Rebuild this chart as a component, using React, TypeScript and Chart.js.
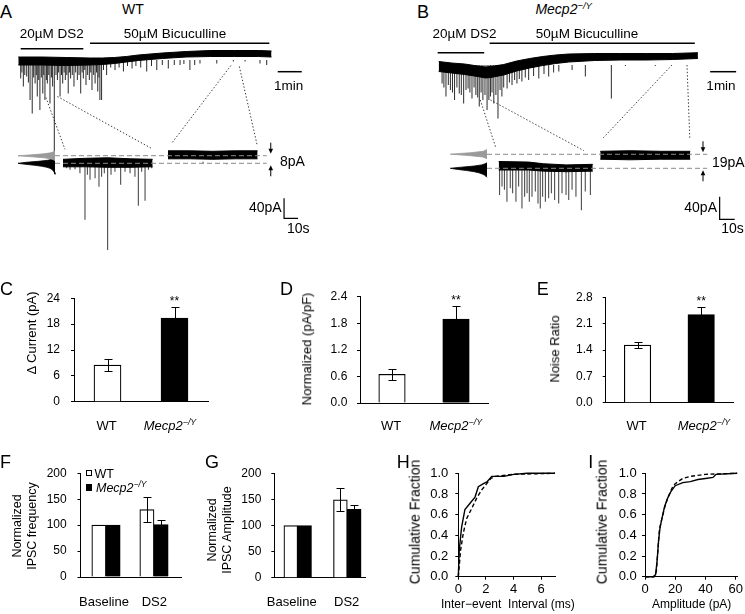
import React, { useEffect, useLayoutEffect, useRef } from 'react';
import { Chart, registerables } from 'chart.js';
Chart.register(...registerables);

const FONT = '"Liberation Sans", Arial, Helvetica, sans-serif';
Chart.defaults.font.family = FONT;
Chart.defaults.color = '#000';

// ===================== DATA =====================
// ---- Panel A (WT) : top trace, time in min, current in pA ----
const aTopT = [0, 1, 2, 3, 3.5, 4, 4.5, 5, 6, 7, 8, 9, 10, 10.55];
const aTopUpper = [6, 6, 5, 4, 4, 5, 7, 10, 14, 17, 19, 19, 19, 18];
const aTopLower = [-10, -10, -11, -10, -9, -7, -4, -1, 3, 6, 7, 7, 7, 6];
const aTopSpikes: [number, number][] = [
  [0.10, -37], [0.15, -25], [0.21, -53], [0.27, -30], [0.35, -33], [0.42, -45], [0.49, -80], [0.58, -107],
  [0.64, -35], [0.70, -47], [0.75, -30], [0.79, -73], [0.85, -40], [0.90, -100], [0.96, -35], [1.02, -67],
  [1.06, -30], [1.11, -80], [1.17, -40], [1.21, -47], [1.27, -30], [1.32, -87], [1.38, -35], [1.43, -53],
  [1.50, -190], [1.57, -30], [1.63, -40], [1.68, -25], [1.74, -73], [1.80, -30], [1.85, -47], [1.91, -25],
  [1.96, -40], [2.02, -30], [2.08, -67], [2.13, -25], [2.18, -37], [2.25, -30], [2.32, -53], [2.39, -25],
  [2.46, -40], [2.53, -30], [2.60, -67], [2.66, -25], [2.71, -37], [2.77, -20], [2.82, -50], [2.89, -30],
  [2.96, -40], [3.02, -25], [3.07, -60], [3.14, -30], [3.20, -47], [3.26, -25], [3.31, -63], [3.36, -35],
  [3.40, -80], [3.47, -80], [3.55, -20], [3.68, -30], [3.85, -15], [4.03, -20], [4.20, -15], [4.38, -23],
  [4.55, -12], [4.74, -17], [4.90, -12], [5.10, -15], [5.35, -23], [5.55, -12], [5.77, -20], [6.00, -10],
  [6.25, -17], [6.50, -10], [6.74, -10], [6.90, -8], [7.15, -20], [7.35, -10], [7.57, -7], [8.27, -7],
  [8.96, -3], [9.45, -3], [10.07, -7], [10.35, -10],
];
const aDrugT: [number, number][] = [[0.1, 2.71], [2.99, 10.46]];
// ---- Panel A inset: time in s, current in pA ----
const aInsT = [0, 16, 32, 48, 64];
const aInsUpper = [8, 10, 11, 9, 8];
const aInsLower = [-7, -7, -8, -8, -7];
const aIns2T = [75, 91, 107, 123, 139];
const aIns2Upper = [25, 25, 24, 25, 25];
const aIns2Lower = [9, 9, 8, 9, 9];
const aInsSpikes: [number, number][] = [
  [2.6, -10], [5.0, -13], [8.6, -12], [12.1, -20], [15.7, -113], [17.4, -23], [19.3, -33], [22.9, -30],
  [25.7, -47], [27.6, -27], [29.5, -20], [31.9, -185], [34.3, -23], [37.1, -17], [41.2, -43], [44.3, -17],
  [47.9, -20], [51.4, -27], [53.8, -85], [56.2, -17], [58.6, -75], [61.0, -13], [63.4, -10], [100, 3], [117, -2],
];
const aLevels = [15.2, 0];
const aGrayBins = [25, 23, 21, 19, 17, 15, 13, 11, 9, 7, 5];
const aGrayCounts = [0, 4, 12, 30, 62, 100, 62, 30, 12, 4, 0];
const aBlackBins = [12, 10, 8, 6, 4, 2, 0, -2, -4, -6, -8, -10, -12, -15, -18, -22];
const aBlackCounts = [0, 3, 8, 20, 45, 78, 100, 80, 55, 35, 22, 14, 9, 5, 2, 0];
// connectors: [top time (min), top pA, inset time (s), inset pA]
const aConn: number[][] = [[1.15, -75, 1.4, 28], [1.63, -73, 64, 28.6], [8.86, -11, 77.6, 40], [9.21, -13, 138.8, 35]];

// ---- Panel B (Mecp2-/Y) ----
const bTopT = [0, 0.5, 1, 1.5, 1.8, 2, 2.5, 3, 3.5, 4, 4.5, 5, 6, 7, 8, 9, 9.97];
const bTopUpper = [7, 4, 2, -2, -4, -3, 1, 8, 13, 17, 20, 22, 23, 23, 23, 23, 24.6];
const bTopLower = [-13, -16, -19, -23, -26, -25, -20, -12, -6, -1, 3, 6, 9, 10, 10, 11, 13];
const bTopSpikes: [number, number][] = [
  [0.13, -37], [0.20, -45], [0.28, -63], [0.37, -40], [0.45, -50], [0.53, -55], [0.61, -70], [0.70, -45],
  [0.79, -57], [0.87, -60], [0.96, -77], [1.05, -50], [1.13, -47], [1.20, -55], [1.28, -67], [1.36, -45],
  [1.43, -60], [1.50, -65], [1.56, -83], [1.63, -55], [1.70, -70], [1.78, -60], [1.86, -90], [1.93, -70],
  [1.99, -63], [2.05, -55], [2.12, -77], [2.20, -60], [2.28, -107], [2.36, -50], [2.43, -63], [2.50, -45],
  [2.63, -47], [2.72, -35], [2.82, -40], [2.92, -30], [3.01, -37], [3.10, -28], [3.20, -33], [3.33, -25],
  [3.46, -30], [3.65, -22], [3.85, -27], [4.05, -18], [4.23, -23], [4.42, -15], [4.62, -13], [5.13, -10],
  [5.64, -23], [6.64, -67], [7.18, -2], [8.33, -2], [9.36, 0],
];
const bDrugT: [number, number][] = [[-0.04, 1.75], [1.96, 9.85]];
const bInsT = [0, 20, 30, 45, 62.7];
const bInsUpper = [12, 11, 8, 6, 7];
const bInsLower = [-3, -3, -5, -6, -5];
const bIns2T = [67.7, 87.7, 107.7, 127.7];
const bIns2Upper = [30, 31, 30, 30];
const bIns2Lower = [16, 15, 16, 16];
const bInsSpikes: [number, number][] = [
  [0.6, -47], [2.2, -32], [3.8, -38], [5.5, -59], [7.7, -35], [9.3, -44], [11.5, -59], [13.3, -32],
  [15.5, -71], [17.3, -50], [18.9, -44], [20.4, -59], [22.2, -50], [24.4, -41], [26.2, -62], [27.7, -71],
  [29.3, -50], [31.1, -59], [33.3, -53], [35.1, -44], [37.3, -56], [40.0, -62], [42.2, -44], [44.9, -47],
  [46.7, -56], [48.9, -38], [51.5, -50], [55.1, -74], [57.7, -41], [61.1, -47],
];
const bLevels = [24.7, 0];
const bGrayBins = [33, 30, 27.5, 25, 22.5, 20, 17];
const bGrayCounts = [0, 10, 45, 100, 50, 12, 0];
const bBlackBins = [10, 8, 6, 4, 2, 0, -2, -4, -6, -8, -10, -12, -14, -16];
const bBlackCounts = [0, 5, 15, 35, 70, 100, 80, 55, 35, 22, 13, 7, 3, 0];
const bConn: number[][] = [[1.60, -70, -1.8, 35.4], [1.99, -70, 56.7, 31.2], [8.97, 0, 69, 51.7], [9.55, 0, 127.4, 52]];

const scaleBarPA = 40;
const scaleBarS = 10;
const scaleBarMin = 1;

// ---- Panels C, D, E ----
const groups = ['WT', 'Mecp2−/Y'];
const cValues = [8.5, 19.4];
const cErrors = [1.3, 2.6];
const dValues = [0.65, 1.9];
const dErrors = [0.13, 0.3];
const eValues = [1.53, 2.34];
const eErrors = [0.08, 0.21];
const sigMarks = ['', '**'];

// ---- Panels F, G ----
const conditions = ['Baseline', 'DS2'];
const fWT = [100, 130];
const fWTErr = [0, 24];
const fKO = [100, 101];
const fKOErr = [0, 9];
const gWT = [100, 149];
const gWTErr = [0, 22];
const gKO = [100, 131];
const gKOErr = [0, 9];

// ---- Panels H, I (cumulative fractions) ----
const hSolidX = [0, 0.07, 0.24, 0.48, 0.85, 1.21, 1.45, 1.82, 2.1, 2.42, 3.3, 4.0, 5.0, 7.0];
const hSolidY = [0, 0.26, 0.48, 0.65, 0.71, 0.77, 0.87, 0.9, 0.92, 0.97, 0.97, 0.99, 1.0, 1.0];
const hDashX = [0, 0.17, 0.36, 0.6, 0.97, 1.33, 1.7, 2.06, 2.35, 2.67, 4.0, 7.0];
const hDashY = [0, 0.26, 0.42, 0.56, 0.66, 0.76, 0.84, 0.9, 0.95, 0.97, 0.99, 1.0];
const iSolidX = [0, 5.5, 7, 8, 9, 10, 11, 13, 15, 17, 20, 25, 30, 35, 40, 45, 47, 61];
const iSolidY = [0, 0, 0.02, 0.15, 0.35, 0.48, 0.55, 0.68, 0.76, 0.82, 0.88, 0.91, 0.92, 0.94, 0.95, 0.96, 0.99, 1.0];
const iDashX = [0, 6, 7.5, 8.5, 9.5, 11, 13, 15, 18, 20, 25, 30, 35, 40, 61];
const iDashY = [0, 0, 0.05, 0.25, 0.45, 0.55, 0.67, 0.76, 0.86, 0.9, 0.95, 0.97, 0.98, 0.99, 1.0];

// ===================== HELPERS =====================
type Pt = { x: number; y: number };
const zip = (xs: number[], ys: number[]): Pt[] => xs.map((x, i) => ({ x, y: ys[i] }));
const spanH = (p0: number, p1: number, q: number, k: number) => ({ min: -(q - p0) / k, max: (p1 - q) / k });
const spanV = (p0: number, p1: number, q: number, k: number) => ({ min: -(p1 - q) / k, max: (q - p0) / k });
const histPoly = (bins: number[], counts: number[]): Pt[] => [
  { x: 0, y: bins[0] },
  ...bins.map((b, i) => ({ x: counts[i], y: b })),
  { x: 0, y: bins[bins.length - 1] },
];

const common: any = {
  responsive: false,
  animation: false,
  events: [],
  plugins: { legend: { display: false }, tooltip: { enabled: false } },
};

function seg(ctx: CanvasRenderingContext2D, x1: number, y1: number, x2: number, y2: number) {
  ctx.beginPath();
  ctx.moveTo(x1, y1);
  ctx.lineTo(x2, y2);
  ctx.stroke();
}
function arrow(ctx: CanvasRenderingContext2D, x: number, y0: number, y1: number) {
  const d = Math.sign(y1 - y0);
  seg(ctx, x, y0, x, y1 - d * 3);
  ctx.beginPath();
  ctx.moveTo(x, y1);
  ctx.lineTo(x - 2.3, y1 - d * 5);
  ctx.lineTo(x + 2.3, y1 - d * 5);
  ctx.closePath();
  ctx.fill();
}

function traceCfg(L: any, D: any) {
  const { left, top, width, height } = L.box;
  const right = left + width;
  const bottom = top + height;
  const hid = (o: any) => ({ type: 'linear', display: false, offset: false, ...o });
  const band = (t: number[], up: number[], lo: number[], xa: string, ya: string) => [
    { type: 'line', data: zip(t, up), xAxisID: xa, yAxisID: ya, borderColor: '#000', borderWidth: 1, pointRadius: 0, fill: false, order: 3 },
    { type: 'line', data: zip(t, lo), xAxisID: xa, yAxisID: ya, borderColor: '#000', borderWidth: 1, pointRadius: 0, fill: '-1', backgroundColor: '#000', order: 3 },
  ];
  const spikes = (sp: [number, number][], xa: string, ya: string, col: string) => ({
    type: 'bar', data: sp.map(([t, p]) => ({ x: t, y: [p, 0] })), xAxisID: xa, yAxisID: ya,
    barThickness: 1, grouped: false, backgroundColor: col, borderWidth: 0, inflateAmount: 0, order: 5,
  });
  const dash = (lvl: number) => ({
    type: 'line', data: [{ x: L.dash[0], y: lvl }, { x: L.dash[1], y: lvl }], xAxisID: 'xi', yAxisID: 'yi',
    borderColor: '#8a8a8a', borderWidth: 1, borderDash: [5, 3], pointRadius: 0, fill: false, order: 1,
  });
  const hist = (bins: number[], counts: number[], col: string) => ({
    type: 'line', data: histPoly(bins, counts), xAxisID: 'xh', yAxisID: 'yi',
    borderColor: col, borderWidth: 0.8, backgroundColor: col, pointRadius: 0, fill: 'shape', order: 2,
  });
  const datasets = [
    ...band(D.topT, D.topUp, D.topLo, 'xt', 'yt'),
    spikes(D.topSpikes, 'xt', 'yt', '#2a2a2a'),
    ...band(D.insT, D.insUp, D.insLo, 'xi', 'yi'),
    ...band(D.ins2T, D.ins2Up, D.ins2Lo, 'xi', 'yi'),
    spikes(D.insSpikes, 'xi', 'yi', '#3a3a3a'),
    dash(D.levels[0]),
    dash(D.levels[1]),
    hist(D.grayBins, D.grayCounts, '#9a9a9a'),
    hist(D.blackBins, D.blackCounts, '#000'),
  ];
  const plugin = {
    id: 'traceDecor',
    afterDatasetsDraw(chart: any) {
      const ctx = chart.ctx as CanvasRenderingContext2D;
      const P = (id: string, v: number) => chart.scales[id].getPixelForValue(v);
      ctx.save();
      ctx.strokeStyle = '#000';
      ctx.fillStyle = '#000';
      ctx.lineWidth = 1.5;
      D.drugT.forEach(([t0, t1]: number[], i: number) => {
        const y = L.drugY[i] - top;
        seg(ctx, P('xt', t0), y, P('xt', t1), y);
      });
      const my = L.minBar.y - top;
      seg(ctx, P('xt', L.minBar.t), my, P('xt', L.minBar.t + scaleBarMin), my);
      ctx.lineWidth = 1.2;
      const bx = P('xi', L.insBar.t);
      const by = P('yi', L.insBar.p);
      ctx.beginPath();
      ctx.moveTo(bx, P('yi', L.insBar.p + scaleBarPA));
      ctx.lineTo(bx, by);
      ctx.lineTo(P('xi', L.insBar.t + scaleBarS), by);
      ctx.stroke();
      ctx.lineWidth = 1;
      const ax = P('xi', L.arrowT);
      const yU = P('yi', D.levels[0]);
      const yL = P('yi', D.levels[1]);
      arrow(ctx, ax, yU - 13, yU - 2);
      arrow(ctx, ax, yL + 13, yL + 2);
      ctx.setLineDash([1.4, 2]);
      ctx.lineWidth = 0.9;
      ctx.strokeStyle = '#222';
      D.conn.forEach(([tt, pt, ti, pi]: number[]) => seg(ctx, P('xt', tt), P('yt', pt), P('xi', ti), P('yi', pi)));
      ctx.restore();
    },
  };
  return {
    type: 'line',
    data: { datasets },
    options: {
      ...common,
      layout: { padding: 0 },
      scales: {
        xt: hid(spanH(left, right, L.xt.q, L.xt.k)),
        yt: hid(spanV(top, bottom, L.yt.q, L.yt.k)),
        xi: hid(spanH(left, right, L.xi.q, L.xi.k)),
        yi: hid(spanV(top, bottom, L.yi.q, L.yi.k)),
        xh: hid({ reverse: true, ...spanV(left, right, L.xh.q, L.xh.k) }),
      },
    },
    plugins: [plugin],
  };
}

const errPlugin = (sets: { values: number[]; errors: number[] }[], sig: string[] | null) => ({
  id: 'errs',
  afterDatasetsDraw(chart: any) {
    const ctx = chart.ctx as CanvasRenderingContext2D;
    const ys = chart.scales.y;
    ctx.save();
    ctx.strokeStyle = '#000';
    ctx.fillStyle = '#000';
    ctx.lineWidth = 1;
    sets.forEach((set, di) => {
      const meta = chart.getDatasetMeta(di);
      meta.data.forEach((bar: any, i: number) => {
        const e = set.errors[i];
        if (!e) return;
        const x = Math.round(bar.x) + 0.5;
        const yT = Math.round(ys.getPixelForValue(set.values[i] + e)) + 0.5;
        const yB = Math.round(ys.getPixelForValue(set.values[i] - e)) + 0.5;
        ctx.beginPath();
        ctx.moveTo(x, yB); ctx.lineTo(x, yT);
        ctx.moveTo(x - 4, yT); ctx.lineTo(x + 4, yT);
        ctx.moveTo(x - 4, yB); ctx.lineTo(x + 4, yB);
        ctx.stroke();
        if (sig && sig[i]) {
          ctx.font = `12px ${FONT}`;
          ctx.textAlign = 'center';
          ctx.textBaseline = 'middle';
          ctx.fillText(sig[i], bar.x, yT - 6);
        }
      });
    });
    ctx.restore();
  },
});

const yAxis = (o: any, max: number, step: number, dec: number, pad: number, fs: number) => ({
  min: 0, max,
  ticks: { stepSize: step, font: { size: fs }, color: '#000', padding: pad, callback: (v: any) => Number(v).toFixed(dec) },
  grid: { drawOnChartArea: false, tickLength: 3, color: '#000' },
  border: { display: true, color: '#000' },
  afterFit: (s: any) => { s.width = o.area.l - o.box.left; },
});

function simpleBarCfg(o: any) {
  return {
    type: 'bar',
    data: {
      labels: groups,
      datasets: [{ data: o.values, backgroundColor: ['#fff', '#000'], borderColor: '#000', borderWidth: 1.2, barThickness: o.bw }],
    },
    options: {
      ...common,
      layout: { padding: { top: o.area.t - o.box.top, right: o.box.left + o.box.width - o.area.r, left: 0, bottom: 0 } },
      scales: {
        x: {
          offset: true, grid: { display: false }, ticks: { display: false },
          border: { display: true, color: '#000' },
          afterFit: (s: any) => { s.height = o.box.top + o.box.height - o.area.b; },
        },
        y: yAxis(o, o.max, o.step, o.dec, o.pad, 12),
      },
    },
    plugins: [errPlugin([{ values: o.values, errors: o.errors }], sigMarks)],
  };
}

function groupBarCfg(o: any) {
  const xs = conditions.map((_, i) => i);
  return {
    type: 'bar',
    data: {
      datasets: [
        { label: 'WT', data: zip(xs, o.wt), backgroundColor: '#fff', borderColor: '#000', borderWidth: 1.2, barThickness: o.bw },
        { label: 'Mecp2', data: zip(xs, o.ko), backgroundColor: '#000', borderColor: '#000', borderWidth: 1.2, barThickness: o.bw },
      ],
    },
    options: {
      ...common,
      layout: { padding: { top: o.area.t - o.box.top, right: o.box.left + o.box.width - o.area.r, left: 0, bottom: 0 } },
      scales: {
        x: {
          type: 'linear', offset: false, ...spanH(o.area.l, o.area.r, o.x0, o.k),
          grid: { display: false }, ticks: { display: false },
          border: { display: true, color: '#000' },
          afterFit: (s: any) => { s.height = o.box.top + o.box.height - o.area.b; },
        },
        y: yAxis(o, 200, 50, 0, o.pad, 12),
      },
    },
    plugins: [errPlugin([{ values: o.wt, errors: o.wtErr }, { values: o.ko, errors: o.koErr }], null)],
  };
}

function cdfCfg(o: any) {
  const ln = (d: Pt[], dash: number[]) => ({
    data: d, borderColor: '#000', borderWidth: 1.4, borderDash: dash, pointRadius: 0, tension: 0, fill: false, clip: false,
  });
  return {
    type: 'line',
    data: { datasets: [ln(o.solid, []), ln(o.dashed, [4, 2.5])] },
    options: {
      ...common,
      layout: { padding: { top: o.area.t - o.box.top, right: o.box.left + o.box.width - o.area.r, left: 0, bottom: 0 } },
      scales: {
        x: {
          type: 'linear', min: 0, max: o.xMax,
          ticks: { stepSize: o.xStep, includeBounds: false, font: { size: 13 }, color: '#000', padding: 2, maxRotation: 0 },
          grid: { drawOnChartArea: false, tickLength: 3, color: '#000' },
          border: { display: true, color: '#000' },
          afterFit: (s: any) => { s.height = o.box.top + o.box.height - o.area.b; },
        },
        y: yAxis(o, 1, 0.2, 1, o.pad, 13),
      },
    },
  };
}

// ===================== COMPONENTS =====================
function ChartBox({ box, make }: { box: any; make: () => any }) {
  const ref = useRef<HTMLCanvasElement>(null);
  useEffect(() => {
    const chart = new Chart(ref.current as HTMLCanvasElement, make());
    return () => chart.destroy();
  }, []);
  return (
    <div style={{ position: 'absolute', left: box.left, top: box.top, width: box.width, height: box.height }}>
      <canvas ref={ref} width={box.width} height={box.height} style={{ width: box.width, height: box.height, display: 'block' }} />
    </div>
  );
}

const T = ({ x, y, a = 'c', s = 13, children, st = {} }: any) => (
  <div
    style={{
      position: 'absolute', left: x, top: y,
      transform: `translate(${a === 'l' ? '0' : a === 'r' ? '-100%' : '-50%'}, -50%)`,
      fontSize: s, lineHeight: 1, whiteSpace: 'nowrap', ...st,
    }}
  >
    {children}
  </div>
);
const R = ({ x, y, s = 13, lh = 1.05, children }: any) => (
  <div
    style={{
      position: 'absolute', left: x, top: y, transform: 'translate(-50%, -50%) rotate(-90deg)',
      fontSize: s, lineHeight: lh, whiteSpace: 'nowrap', textAlign: 'center',
    }}
  >
    {children}
  </div>
);
const Mecp = () => (
  <>
    <i>Mecp2</i>
    <sup style={{ fontSize: '0.68em', fontStyle: 'italic', verticalAlign: '0.55em', lineHeight: 0 }}>−/Y</sup>
  </>
);

// ===================== LAYOUT =====================
const aLayout = {
  box: { left: 0, top: 25, width: 372, height: 225 },
  xt: { q: 18.3, k: 24 }, yt: { q: 60, k: 0.5 },
  xi: { q: 63, k: 1.4 }, yi: { q: 163.3, k: 0.5 }, xh: { q: 55, k: 0.37 },
  drugY: [48.7, 43.3], minBar: { t: 10.81, y: 71.7 }, insBar: { t: 157.9, p: -110 }, arrowT: 148.4, dash: [-5.7, 145.5],
};
const aData = {
  topT: aTopT, topUp: aTopUpper, topLo: aTopLower, topSpikes: aTopSpikes, drugT: aDrugT,
  insT: aInsT, insUp: aInsUpper, insLo: aInsLower, ins2T: aIns2T, ins2Up: aIns2Upper, ins2Lo: aIns2Lower,
  insSpikes: aInsSpikes, levels: aLevels, grayBins: aGrayBins, grayCounts: aGrayCounts,
  blackBins: aBlackBins, blackCounts: aBlackCounts, conn: aConn,
};
const bLayout = {
  box: { left: 372, top: 25, width: 373, height: 225 },
  xt: { q: 438.7, k: 26 }, yt: { q: 65, k: 0.5 },
  xi: { q: 498.7, k: 1.5 }, yi: { q: 168.3, k: 0.567 }, xh: { q: 487, k: 0.367 },
  drugY: [52.7, 43.3], minBar: { t: 10.44, y: 71.7 }, insBar: { t: 147.3, p: -90 }, arrowT: 136.2, dash: [-7.8, 139],
};
const bData = {
  topT: bTopT, topUp: bTopUpper, topLo: bTopLower, topSpikes: bTopSpikes, drugT: bDrugT,
  insT: bInsT, insUp: bInsUpper, insLo: bInsLower, ins2T: bIns2T, ins2Up: bIns2Upper, ins2Lo: bIns2Lower,
  insSpikes: bInsSpikes, levels: bLevels, grayBins: bGrayBins, grayCounts: bGrayCounts,
  blackBins: bBlackBins, blackCounts: bBlackCounts, conn: bConn,
};

const cOpt = { box: { left: 0, top: 280, width: 215, height: 140 }, area: { l: 74, r: 208, t: 295.7, b: 406 }, values: cValues, errors: cErrors, max: 24, step: 6, dec: 0, pad: 11, bw: 27 };
const dOpt = { box: { left: 250, top: 280, width: 245, height: 140 }, area: { l: 360, r: 488, t: 295.7, b: 406 }, values: dValues, errors: dErrors, max: 2.4, step: 0.6, dec: 1, pad: 9.7, bw: 26.5 };
const eOpt = { box: { left: 495, top: 280, width: 250, height: 140 }, area: { l: 605.7, r: 733, t: 295.7, b: 406 }, values: eValues, errors: eErrors, max: 2.8, step: 0.7, dec: 1, pad: 10, bw: 26.5 };
const fOpt = { box: { left: 0, top: 455, width: 190, height: 140 }, area: { l: 80.5, r: 181, t: 473.3, b: 582.7 }, x0: 106, k: 48, bw: 14.2, pad: 10.8, wt: fWT, wtErr: fWTErr, ko: fKO, koErr: fKOErr };
const gOpt = { box: { left: 185, top: 455, width: 190, height: 140 }, area: { l: 274.3, r: 365, t: 473.3, b: 583.3 }, x0: 297.7, k: 49.6, bw: 13.8, pad: 10, wt: gWT, wtErr: gWTErr, ko: gKO, koErr: gKOErr };
const hOpt = { box: { left: 370, top: 455, width: 190, height: 140 }, area: { l: 458.3, r: 555, t: 473.3, b: 576.7 }, xMax: 7, xStep: 2, pad: 7, solid: zip(hSolidX, hSolidY), dashed: zip(hDashX, hDashY) };
const iOpt = { box: { left: 555, top: 455, width: 190, height: 140 }, area: { l: 645, r: 737.7, t: 473.3, b: 576.7 }, xMax: 61, xStep: 20, pad: 5.3, solid: zip(iSolidX, iSolidY), dashed: zip(iDashX, iDashY) };

export default function App() {
  useLayoutEffect(() => {
    document.body.style.margin = '0';
  }, []);
  const L = 18;
  return (
    <div style={{ position: 'relative', width: 745, height: 614, overflow: 'hidden', background: '#fff', fontFamily: FONT, color: '#000' }}>
      <ChartBox box={aLayout.box} make={() => traceCfg(aLayout, aData)} />
      <ChartBox box={bLayout.box} make={() => traceCfg(bLayout, bData)} />
      <ChartBox box={cOpt.box} make={() => simpleBarCfg(cOpt)} />
      <ChartBox box={dOpt.box} make={() => simpleBarCfg(dOpt)} />
      <ChartBox box={eOpt.box} make={() => simpleBarCfg(eOpt)} />
      <ChartBox box={fOpt.box} make={() => groupBarCfg(fOpt)} />
      <ChartBox box={gOpt.box} make={() => groupBarCfg(gOpt)} />
      <ChartBox box={hOpt.box} make={() => cdfCfg(hOpt)} />
      <ChartBox box={iOpt.box} make={() => cdfCfg(iOpt)} />

      {/* panel letters */}
      <T x={0} y={11.5} a="l" s={L}>A</T>
      <T x={417} y={11.5} a="l" s={L}>B</T>
      <T x={0} y={288.5} a="l" s={L}>C</T>
      <T x={280} y={288.5} a="l" s={L}>D</T>
      <T x={536.7} y={288.5} a="l" s={L}>E</T>
      <T x={0} y={461.5} a="l" s={L}>F</T>
      <T x={205} y={462} a="l" s={L}>G</T>
      <T x={396.7} y={462} a="l" s={L}>H</T>
      <T x={588.3} y={462} a="l" s={L}>I</T>

      {/* panel A labels */}
      <T x={133} y={9} s={14}>WT</T>
      <T x={51.7} y={34.3} s={13.5}>20µM DS2</T>
      <T x={175} y={34.3} s={13.5}>50µM Bicuculline</T>
      <T x={288.7} y={86} s={13.5}>1min</T>
      <T x={280} y={161} a="l" s={14}>8pA</T>
      <T x={281.7} y={206.7} a="r" s={14}>40pA</T>
      <T x={287} y={228} a="l" s={14}>10s</T>

      {/* panel B labels */}
      <T x={563.7} y={9} s={14}><Mecp /></T>
      <T x={464.5} y={34.3} s={13.5}>20µM DS2</T>
      <T x={587} y={34.3} s={13.5}>50µM Bicuculline</T>
      <T x={721} y={86} s={13.5}>1min</T>
      <T x={712} y={161.7} a="l" s={14}>19pA</T>
      <T x={717} y={206.7} a="r" s={14}>40pA</T>
      <T x={721.3} y={228.3} a="l" s={14}>10s</T>

      {/* C, D, E */}
      <R x={32.3} y={333.3} s={13}>Δ Current (pA)</R>
      <R x={306.7} y={348.7} s={13}>Normalized (pA/pF)</R>
      <R x={555} y={348.7} s={13}>Noise Ratio</R>
      <T x={106.7} y={425} s={13}>WT</T>
      <T x={170} y={425} s={13}><Mecp /></T>
      <T x={391} y={425} s={13}>WT</T>
      <T x={455.8} y={425} s={13}><Mecp /></T>
      <T x={636.7} y={425} s={13}>WT</T>
      <T x={704} y={425} s={13}><Mecp /></T>

      {/* F, G */}
      <R x={25.3} y={526} s={12.5} lh={1.2}>Normalized<br />IPSC frequency</R>
      <R x={220} y={530} s={12.5} lh={1.2}>Normalized<br />IPSC Amplitude</R>
      <div style={{ position: 'absolute', left: 85.5, top: 470, width: 4, height: 4, border: '1.2px solid #000', background: '#fff' }} />
      <T x={94.5} y={473.8} a="l" s={12.5}>WT</T>
      <div style={{ position: 'absolute', left: 85.5, top: 484.3, width: 6.5, height: 6.5, background: '#000' }} />
      <T x={96} y={487.5} a="l" s={12.5}><Mecp /></T>
      <T x={104} y={600.5} s={13}>{conditions[0]}</T>
      <T x={154.3} y={600.5} s={13}>{conditions[1]}</T>
      <T x={291.7} y={600.5} s={13}>{conditions[0]}</T>
      <T x={346.7} y={600.5} s={13}>{conditions[1]}</T>

      {/* H, I */}
      <R x={415} y={521.7} s={14}>Cumulative Fraction</R>
      <R x={601.7} y={521.7} s={14}>Cumulative Fraction</R>
      <T x={441} y={604} a="l" s={12}>Inter−event&nbsp;&nbsp;Interval (ms)</T>
      <T x={691.7} y={604} s={12}>Amplitude (pA)</T>
    </div>
  );
}
